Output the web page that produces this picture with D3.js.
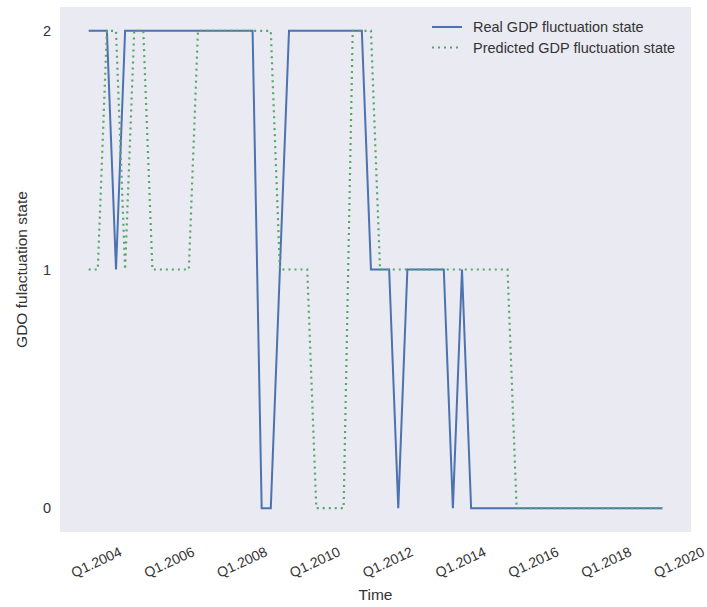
<!DOCTYPE html>
<html>
<head>
<meta charset="utf-8">
<script src="https://cdn.jsdelivr.net/npm/d3@7"></script>
<style>
  html, body { margin: 0; padding: 0; background: #ffffff; }
  svg { display: block; font-family: "Liberation Sans", Arial, sans-serif; }
</style>
</head>
<body>
<svg id="chart" width="707" height="607"></svg>
<script>
// Quarterly observations, Q4.2003 .. Q3.2019
const quarters = [
  "Q4.2003",
  "Q1.2004","Q2.2004","Q3.2004","Q4.2004",
  "Q1.2005","Q2.2005","Q3.2005","Q4.2005",
  "Q1.2006","Q2.2006","Q3.2006","Q4.2006",
  "Q1.2007","Q2.2007","Q3.2007","Q4.2007",
  "Q1.2008","Q2.2008","Q3.2008","Q4.2008",
  "Q1.2009","Q2.2009","Q3.2009","Q4.2009",
  "Q1.2010","Q2.2010","Q3.2010","Q4.2010",
  "Q1.2011","Q2.2011","Q3.2011","Q4.2011",
  "Q1.2012","Q2.2012","Q3.2012","Q4.2012",
  "Q1.2013","Q2.2013","Q3.2013","Q4.2013",
  "Q1.2014","Q2.2014","Q3.2014","Q4.2014",
  "Q1.2015","Q2.2015","Q3.2015","Q4.2015",
  "Q1.2016","Q2.2016","Q3.2016","Q4.2016",
  "Q1.2017","Q2.2017","Q3.2017","Q4.2017",
  "Q1.2018","Q2.2018","Q3.2018","Q4.2018",
  "Q1.2019","Q2.2019","Q3.2019"
];

const realState = [
  2,2,2,1,
  2,2,2,2,2,2,2,2,2,2,2,2,2,2,2,
  0,0,1,
  2,2,2,2,2,2,2,2,2,
  1,1,1,0,1,1,1,1,1,0,1,
  0,0,0,0,0,0,0,0,0,0,0,0,0,0,0,0,0,0,0,0,0,0
];

const predictedState = [
  1,1,2,2,1,2,2,
  1,1,1,1,1,
  2,2,2,2,2,2,2,2,2,
  1,1,1,1,
  0,0,0,0,
  2,2,2,
  1,1,1,1,1,1,1,1,1,1,1,1,1,1,1,
  0,0,0,0,0,0,0,0,0,0,0,0,0,0,0,0,0
];

const xTickLabels = ["Q1.2004","Q1.2006","Q1.2008","Q1.2010","Q1.2012","Q1.2014","Q1.2016","Q1.2018","Q1.2020"];
const yTickValues = [0, 1, 2];

const seriesNames = ["Real GDP fluctuation state", "Predicted GDP fluctuation state"];
const seriesColors = ["#4C72B0", "#55A868"];

// "Qn.YYYY" -> fractional year
function quarterToNum(s) {
  const q = +s.slice(1, 2);
  const y = +s.slice(3);
  return y + (q - 1) / 4;
}

const svg = d3.select("#chart");
const plot = { left: 60, right: 691, top: 7, bottom: 532 };

const tVals = quarters.map(quarterToNum);
const tMin = d3.min(tVals), tMax = d3.max(tVals);
const padX = (tMax - tMin) * 0.05;
const padY = (2 - 0) * 0.05;

const x = d3.scaleLinear().domain([tMin - padX, tMax + padX]).range([plot.left, plot.right]);
const y = d3.scaleLinear().domain([0 - padY, 2 + padY]).range([plot.bottom, plot.top]);

// plot background
svg.append("rect")
  .attr("x", plot.left).attr("y", plot.top)
  .attr("width", plot.right - plot.left).attr("height", plot.bottom - plot.top)
  .attr("fill", "#EAEAF2");

// x axis (rotated labels, no tick marks)
const xAxis = d3.axisBottom(x)
  .tickValues(xTickLabels.map(quarterToNum))
  .tickFormat((d, i) => xTickLabels[i])
  .tickSize(0);
const gx = svg.append("g").attr("transform", `translate(0,${plot.bottom})`).call(xAxis);
gx.select(".domain").remove();
gx.selectAll("text")
  .attr("y", 0).attr("dy", null)
  .attr("font-size", "14px")
  .attr("fill", "#333")
  .attr("text-anchor", "middle")
  .attr("dominant-baseline", "central")
  .attr("transform", "translate(-2,30) rotate(-25)");

// y axis
const yAxis = d3.axisLeft(y).tickValues(yTickValues).tickFormat(d3.format("d")).tickSize(0).tickPadding(9);
const gy = svg.append("g").attr("transform", `translate(${plot.left},0)`).call(yAxis);
gy.select(".domain").remove();
gy.selectAll("text").attr("font-size", "14.5px").attr("fill", "#333");

// axis titles
svg.append("text")
  .attr("x", (plot.left + plot.right) / 2).attr("y", 600)
  .attr("text-anchor", "middle")
  .attr("font-size", "15.5px").attr("fill", "#333")
  .text("Time");
svg.append("text")
  .attr("transform", `translate(27,${(plot.top + plot.bottom) / 2}) rotate(-90)`)
  .attr("text-anchor", "middle")
  .attr("font-size", "15.5px").attr("fill", "#333")
  .text("GDO fulactuation state");

// lines
const line = d3.line().x((d, i) => x(tVals[i])).y(d => y(d));

svg.append("path")
  .datum(realState)
  .attr("d", line)
  .attr("fill", "none")
  .attr("stroke", seriesColors[0])
  .attr("stroke-width", 2);

svg.append("path")
  .datum(predictedState)
  .attr("d", line)
  .attr("fill", "none")
  .attr("stroke", seriesColors[1])
  .attr("stroke-width", 2.2)
  .attr("stroke-dasharray", "2,4");

// legend
const legend = svg.append("g").attr("transform", "translate(432,27)");
seriesNames.forEach((name, i) => {
  const g = legend.append("g").attr("transform", `translate(0,${i * 20.5})`);
  g.append("line")
    .attr("x1", 0).attr("x2", 30).attr("y1", 0).attr("y2", 0)
    .attr("stroke", seriesColors[i])
    .attr("stroke-width", i === 0 ? 2 : 2.2)
    .attr("stroke-dasharray", i === 0 ? null : "2,4");
  g.append("text")
    .attr("x", 41).attr("y", 0)
    .attr("dominant-baseline", "central")
    .attr("font-size", "14.5px").attr("fill", "#333")
    .text(name);
});
</script>
</body>
</html>
